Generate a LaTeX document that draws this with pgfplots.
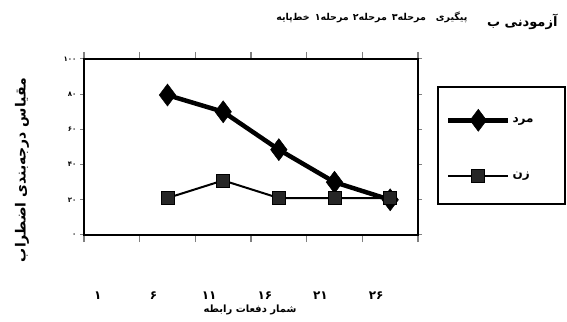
\documentclass[border=0pt]{standalone}
\usepackage{fontspec}
\usepackage{pgfplots}
\usetikzlibrary{patterns}
\pgfplotsset{compat=1.18}
\TeXXeTstate=1
\newfontfamily\fa[Script=Arabic]{DejaVu Sans}
\newcommand{\R}[1]{{\fa\beginR #1\endR}}
\begin{document}
\begin{tikzpicture}
\useasboundingbox (0,0) rectangle (567pt,321pt);
\begin{axis}[
  at={(84pt,86pt)}, anchor=south west,
  scale only axis, width=334pt, height=176pt,
  xmin=0.5, xmax=6.5, ymin=0, ymax=100,
  xtick={1,2,3,4,5,6},
  xticklabels={{\fa\bfseries ۱},{\fa\bfseries ۶},{\fa\bfseries ۱۱},{\fa\bfseries ۱۶},{\fa\bfseries ۲۱},{\fa\bfseries ۲۶}},
  xticklabel style={yshift=-49pt, xshift=-14pt, font=\large},
  minor xtick={0.5,1.5,2.5,3.5,4.5,5.5,6.5},
  major x tick style={draw=none},
  minor x tick style={line width=1.6pt},
  ytick={0,20,40,60,80,100},
  yticklabels={{\fa ۰},{\fa ۲۰},{\fa ۴۰},{\fa ۶۰},{\fa ۸۰},{\fa ۱۰۰}},
  yticklabel style={font=\scriptsize\bfseries},
  tick align=outside,
  major y tick style={line width=1pt},
  minor tick length=7pt,
  major tick length=4pt,
  axis line style={line width=2pt},
  legend style={at={(1.057,0.845)}, anchor=north west, draw=black, line width=2pt,
    inner xsep=8pt, inner ysep=22pt, row sep=38pt, font=\fa\bfseries\large},
  legend cell align=left,
  legend image code/.code={\draw[mark repeat=2,mark phase=2,#1] plot coordinates {(0pt,0pt) (30pt,0pt) (60pt,0pt)};},
]
\addplot[black, line width=4.5pt, mark=diamond*, mark size=11pt, mark options={solid, line width=0.5pt, fill=black}]
  coordinates {(2,79.5) (3,70) (4,48.5) (5,30) (6,20)};
\addlegendentry{\makebox[42pt][l]{\R{مرد}}}
\addplot[black, line width=2pt, mark=square*, mark size=6.5pt, mark options={solid, line width=0.8pt, fill=black!85, postaction={pattern=dots, pattern color=white!60!black}}]
  coordinates {(2,21) (3,31) (4,21) (5,21) (6,21)};
\addlegendentry{\makebox[42pt][l]{\R{زن}}}
\end{axis}
\node[rotate=90, font=\bfseries\fontsize{14}{16}\selectfont] at (22pt,151pt) {\R{مقیاس درجه‌بندی اضطراب}};
\node[font=\bfseries] at (250pt,11pt) {\R{شمار دفعات رابطه}};
\node[anchor=east, font=\bfseries\fontsize{9.5}{11}\selectfont] at (471pt,304pt) {\R{پیگیری\hspace{10pt}مرحله۳\hspace{5pt}مرحله۲\hspace{4pt}مرحله۱\hspace{5pt}خط‌پایه}};
\node[anchor=east, font=\bfseries\fontsize{13}{15}\selectfont] at (561pt,299pt) {\R{آزمودنی ب}};
\end{tikzpicture}
\end{document}
